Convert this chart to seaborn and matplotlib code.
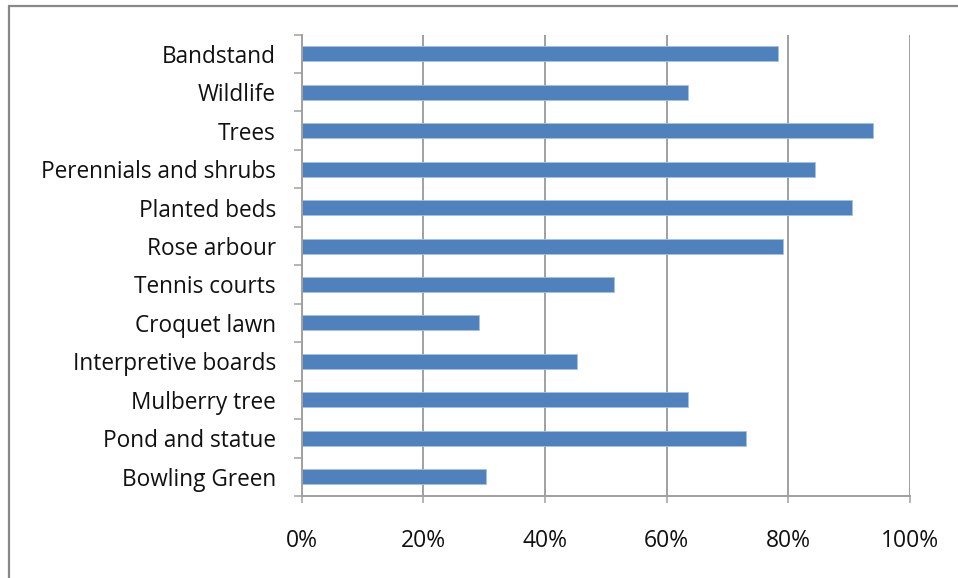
import matplotlib
matplotlib.use("Agg")
import matplotlib.pyplot as plt
from matplotlib.patches import Rectangle
from matplotlib.ticker import FixedLocator, PercentFormatter
import seaborn as sns
import pandas as pd
import numpy as np

# Share of respondents who value each park feature (%)
features = [
    "Bandstand", "Wildlife", "Trees", "Perennials and shrubs", "Planted beds",
    "Rose arbour", "Tennis courts", "Croquet lawn", "Interpretive boards",
    "Mulberry tree", "Pond and statue", "Bowling Green",
]
shares = [78.3, 63.5, 94.0, 84.4, 90.5, 79.2, 51.3, 29.2, 45.2, 63.5, 73.1, 30.4]
x_ticks = [0, 20, 40, 60, 80, 100]

df = pd.DataFrame({"feature": features, "share": shares})

sns.set_theme(style="white")
plt.rcParams["font.family"] = ["Open Sans", "DejaVu Sans"]

W, H = 958, 578
fig = plt.figure(figsize=(W / 100, H / 100), dpi=100)
ax = fig.add_axes([301.5 / W, (H - 496) / H, (910 - 301.5) / W, (496 - 34.5) / H])

bar_color = "#4F81BD"
sns.barplot(data=df, x="share", y="feature", orient="h", color=bar_color,
            saturation=1, width=0.39, edgecolor="#A9C1E0", linewidth=0.6, ax=ax)

grid_c = "#A0A0A0"
ax.set_xlim(0, 100)
ax.set_ylim(len(features) - 0.5, -0.5)
ax.xaxis.set_major_locator(FixedLocator(x_ticks))
ax.xaxis.set_major_formatter(PercentFormatter(decimals=0))
ax.grid(axis="x", color=grid_c, linewidth=1.4)
ax.set_axisbelow(True)

# category boundary ticks on the value axis side
ax.yaxis.set_minor_locator(FixedLocator(np.arange(-0.5, len(features), 1.0)))
ax.tick_params(axis="y", which="major", length=0, pad=18.5, labelsize=16.3,
               labelcolor="#111111")
ax.tick_params(axis="y", which="minor", left=True, length=6, width=1.1,
               color=grid_c)
ax.tick_params(axis="x", which="major", bottom=True, length=5, width=1.1,
               color=grid_c, pad=19, labelsize=16.5, labelcolor="#111111")

for side in ("top", "right"):
    ax.spines[side].set_visible(False)
for side in ("left", "bottom"):
    ax.spines[side].set_color(grid_c)
    ax.spines[side].set_linewidth(1.4)

ax.set_xlabel("")
ax.set_ylabel("")

# outer chart frame
fig.patches.append(Rectangle((9 / W, -0.05), 1.2, (H - 6) / H + 0.05,
                             transform=fig.transFigure, fill=False,
                             edgecolor="#888888", linewidth=1.6))

fig.savefig("out.png", dpi=100, facecolor="white")
